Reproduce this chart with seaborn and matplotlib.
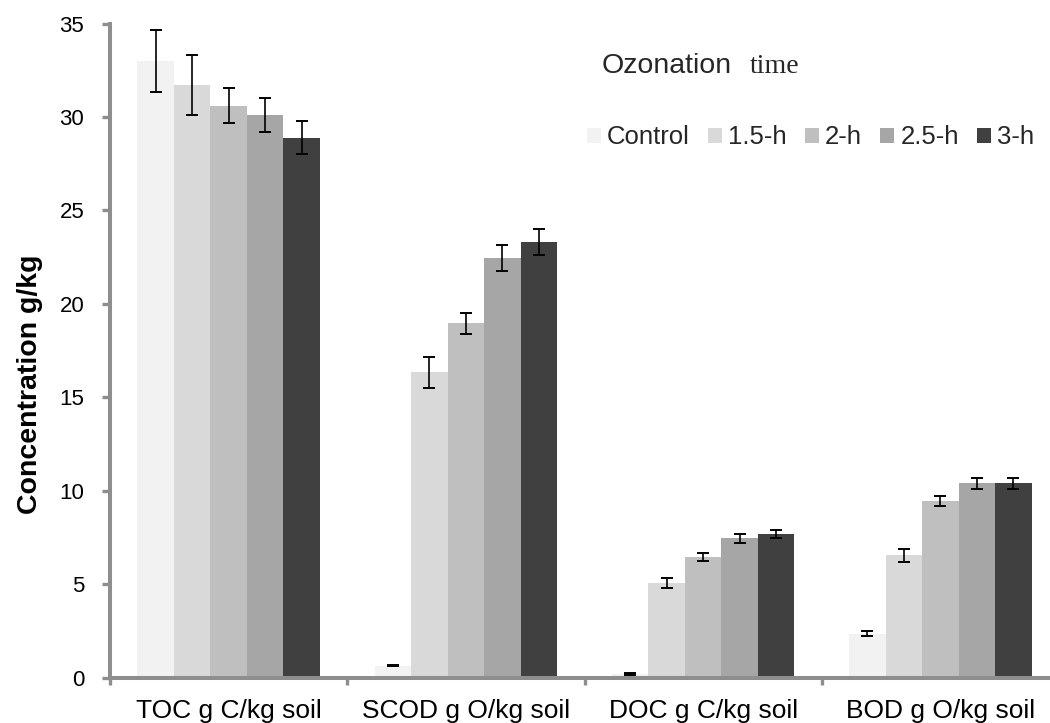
import matplotlib
matplotlib.use("Agg")
import matplotlib.pyplot as plt
import seaborn as sns
import pandas as pd
from matplotlib.ticker import FixedLocator

# ---- data ----
categories = ["TOC g C/kg soil", "SCOD g O/kg soil", "DOC g C/kg soil", "BOD g O/kg soil"]
times = ["Control", "1.5-h", "2-h", "2.5-h", "3-h"]

control = [33.0, 0.65, 0.2, 2.35]
h1_5 = [31.7, 16.35, 5.05, 6.55]
h2 = [30.6, 18.95, 6.45, 9.45]
h2_5 = [30.1, 22.45, 7.45, 10.4]
h3 = [28.9, 23.3, 7.7, 10.4]

control_err = [1.65, 0.05, 0.03, 0.13]
h1_5_err = [1.6, 0.83, 0.27, 0.34]
h2_err = [0.93, 0.58, 0.2, 0.28]
h2_5_err = [0.9, 0.68, 0.22, 0.3]
h3_err = [0.86, 0.7, 0.22, 0.3]

colors = ["#f2f2f2", "#d9d9d9", "#bfbfbf", "#a6a6a6", "#404040"]

series = [control, h1_5, h2, h2_5, h3]
errors = [control_err, h1_5_err, h2_err, h2_5_err, h3_err]

rows = []
for t, vals in zip(times, series):
    for c, v in zip(categories, vals):
        rows.append({"category": c, "time": t, "value": v})
df = pd.DataFrame(rows)

sns.set_theme(style="white")
plt.rcParams["font.family"] = ["Liberation Sans", "DejaVu Sans"]

fig = plt.figure(figsize=(10.5, 7.23), dpi=100)
W, H = 1050, 723
ax = fig.add_axes([110 / W, 1 - 677.7 / H, 949 / W, 654.2 / H])

sns.barplot(data=df, x="category", y="value", hue="time", order=categories,
            hue_order=times, palette=colors, width=0.77, errorbar=None,
            linewidth=0, saturation=1, ax=ax)

# error bars at the bar positions computed by seaborn
for cont, errs in zip(ax.containers, errors):
    xs = [b.get_x() + b.get_width() / 2 for b in cont]
    ys = [b.get_height() for b in cont]
    ax.errorbar(xs, ys, yerr=errs, fmt="none", ecolor="black",
                elinewidth=1.2, capsize=4.3, capthick=1.4, zorder=5)

ax.set_ylim(0, 35)
ax.set_xlim(-0.5, 3.5)
ax.set_yticks(range(0, 36, 5))
ax.set_xlabel("")

spine_col = "#8e8e8e"
for s in ["top", "right"]:
    ax.spines[s].set_visible(False)
for s in ["left", "bottom"]:
    ax.spines[s].set_color(spine_col)
    ax.spines[s].set_linewidth(2.9)

ax.tick_params(axis="y", which="major", direction="out", length=5.5, width=2.4,
               color=spine_col, labelsize=16, pad=13, left=True)
ax.tick_params(axis="x", which="major", length=0, labelsize=19, pad=15)
ax.xaxis.set_minor_locator(FixedLocator([-0.5, 0.5, 1.5, 2.5, 3.5]))
ax.tick_params(axis="x", which="minor", direction="out", length=5, width=2.4,
               color=spine_col, bottom=True)
for lab in ax.get_xticklabels() + ax.get_yticklabels():
    lab.set_color("black")

ax.set_ylabel("Concentration g/kg", fontsize=20.5, fontweight="bold", color="black")
ax.yaxis.set_label_coords(-0.0706, 0.449)

# legend
handles, labels = ax.get_legend_handles_labels()
leg = ax.legend(handles, labels, loc="center left",
                bbox_to_anchor=(586.7 / W, 1 - 137.5 / H),
                bbox_transform=fig.transFigure, ncol=5, frameon=False,
                fontsize=18.5, borderpad=0, borderaxespad=0,
                handlelength=0.545, handleheight=0.545, handletextpad=0.23,
                columnspacing=0.72)

fig.text(601.7 / W, 1 - 72.7 / H, "Ozonation", fontsize=20.5,
         family=["Liberation Sans", "DejaVu Sans"], va="baseline", ha="left")
fig.text(750 / W, 1 - 72.7 / H, "time", fontsize=20,
         family=["Liberation Serif", "DejaVu Serif"], va="baseline", ha="left")

fig.savefig("out.png", dpi=100)
